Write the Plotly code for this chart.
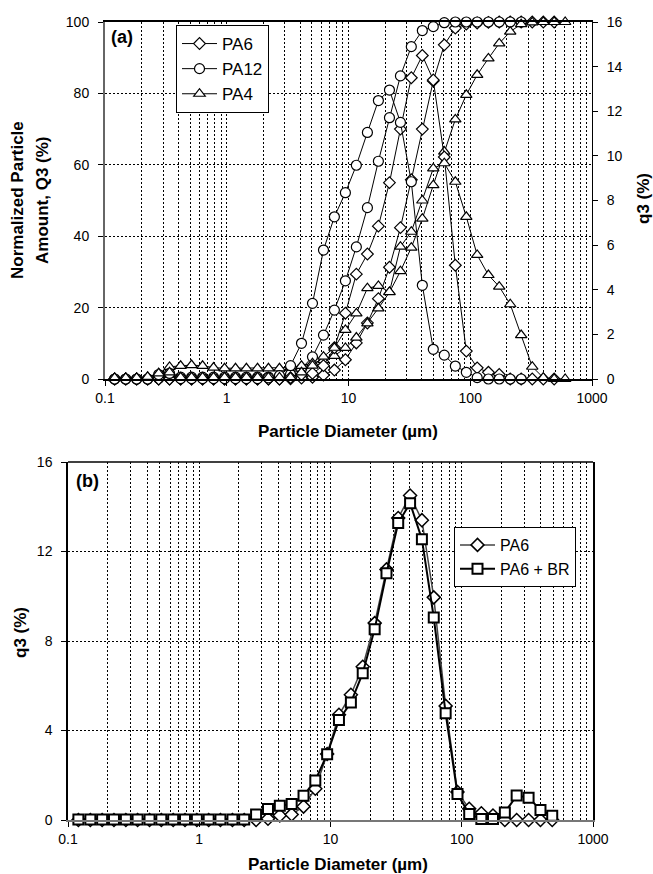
import plotly.graph_objects as go

# ---------------- data ----------------
# particle diameter grid (um)
diam = [0.120, 0.148, 0.182, 0.224, 0.276, 0.339, 0.418, 0.514, 0.633, 0.779,
        0.959, 1.18, 1.45, 1.79, 2.20, 2.71, 3.34, 4.11, 5.06, 6.23,
        7.66, 9.43, 11.6, 14.3, 17.6, 21.7, 26.7, 32.8, 40.4, 49.7,
        61.2, 75.4, 92.8, 114, 141, 173, 213, 262, 323, 398,
        489, 602]

x_tick_vals = [0.1, 1, 10, 100, 1000]
x_tick_text = ["0.1", "1", "10", "100", "1000"]

# (a) PA6 : 41 points
pa6_Q3 = [0, 0, 0, 0, 0, 0, 0, 0, 0, 0,
          0, 0, 0, 0, 0, 0, 0.06, 0.26, 0.5, 1.1,
          2.5, 5.4, 10.1, 15.7, 22.5, 31.3, 42.4, 55.8, 70.0, 83.5,
          93.6, 98.3, 99.4, 99.7, 99.9, 100, 100, 100, 100, 100,
          100]
pa6_q3 = [0, 0, 0, 0, 0, 0, 0, 0, 0, 0,
          0, 0, 0, 0, 0, 0, 0.06, 0.2, 0.25, 0.6,
          1.4, 2.95, 4.7, 5.6, 6.85, 8.8, 11.2, 13.5, 14.5, 13.4,
          9.95, 5.1, 1.25, 0.5, 0.3, 0.2, 0, 0, 0, 0,
          0]

# (a) PA12 : 38 points
pa12_Q3 = [0, 0, 0, 0, 0.2, 0.45, 0.5, 0.5, 0.5, 0.5,
           0.5, 0.5, 0.5, 0.5, 0.55, 0.7, 1.3, 2.9, 6.2, 12.3,
           19.3, 27.5, 37.0, 48.0, 61.0, 73.2, 84.9, 93.1, 97.6, 98.7,
           99.8, 100, 100, 100, 100, 100, 100, 100]
pa12_q3 = [0, 0, 0, 0, 0.2, 0.25, 0.02, 0.02, 0.02, 0.02,
           0.02, 0.02, 0.02, 0.02, 0.05, 0.15, 0.6, 1.6, 3.39, 5.78,
           7.27, 8.35, 9.58, 11.05, 12.48, 12.95, 11.5, 8.84, 4.2, 1.33,
           1.07, 0.58, 0.3, 0.06, 0, 0, 0, 0]

# (a) PA4 : 42 points
pa4_Q3 = [0.2, 0.3, 0.3, 0.5, 1.6, 3.4, 3.7, 3.9, 3.7, 3.2,
          3.0, 3.0, 3.0, 3.0, 3.0, 3.0, 3.2, 3.7, 4.4, 5.3,
          6.5, 8.7, 11.6, 15.6, 19.8, 24.3, 30.2, 36.8, 44.9, 54.3,
          63.7, 72.7, 79.6, 85.2, 89.8, 94.0, 97.3, 99.4, 99.9, 100,
          100, 100]
pa4_q3 = [0.05, 0.05, 0.05, 0.1, 0.25, 0.3, 0.07, 0.07, 0.07, 0.07,
          0.07, 0.07, 0.07, 0.07, 0.07, 0.07, 0.07, 0.3, 0.6, 1.0,
          1.4, 2.2, 2.94, 4.07, 4.17, 3.9, 5.93, 6.6, 8.0, 9.44,
          9.67, 8.84, 7.27, 5.56, 4.66, 4.14, 3.35, 1.97, 0.55, 0.06,
          0, 0]

# (b) PA6 and PA6 + BR : 41 points
b_pa6_q3 = [0, 0, 0, 0, 0, 0, 0, 0, 0, 0,
            0, 0, 0, 0, 0, 0, 0.06, 0.2, 0.25, 0.6,
            1.4, 2.95, 4.7, 5.6, 6.85, 8.8, 11.2, 13.5, 14.5, 13.4,
            9.95, 5.1, 1.25, 0.5, 0.3, 0.2, 0, 0, 0, 0,
            0]
b_br_q3 = [0.02, 0.02, 0.02, 0.02, 0.02, 0.02, 0.02, 0.02, 0.02, 0.02,
           0.02, 0.02, 0.02, 0.02, 0.02, 0.25, 0.49, 0.64, 0.72, 1.08,
           1.77, 2.94, 4.47, 5.25, 6.56, 8.53, 11.03, 13.27, 14.16, 12.55,
           9.05, 4.77, 1.16, 0.27, 0.04, 0.04, 0.34, 1.09, 1.0, 0.45,
           0.19]

# ---------------- figure ----------------
W, H = 653, 874
FONT = "Arial, Liberation Sans, sans-serif"


def pxx(x):
    return x / W


def pyy(y):
    return 1 - y / H


minor_vals = [m * 10.0 ** e for e in (-1, 0, 1, 2) for m in range(2, 10)]

fig = go.Figure()


def add(xs, ys, sym, name, xa, ya, legend, showlegend, size,
        lw=1.0, lc="black", mlw=1.2):
    fig.add_trace(go.Scatter(
        x=xs, y=ys, mode="lines+markers", name=name,
        xaxis=xa, yaxis=ya, legend=legend, showlegend=showlegend,
        line=dict(color=lc, width=lw),
        marker=dict(symbol=sym, size=size, color="white",
                    line=dict(color="black", width=mlw)),
        cliponaxis=False, hoverinfo="skip"))


# panel (a)
add(diam[:41], pa6_Q3, "diamond", "PA6", "x", "y", "legend", True, 9)
add(diam[:38], pa12_Q3, "circle", "PA12", "x", "y", "legend", True, 10)
add(diam[:42], pa4_Q3, "triangle-up", "PA4", "x", "y", "legend", True, 10)
add(diam[:41], pa6_q3, "diamond", "PA6 q3", "x", "y2", "legend", False, 9)
add(diam[:38], pa12_q3, "circle", "PA12 q3", "x", "y2", "legend", False, 10)
add(diam[:42], pa4_q3, "triangle-up", "PA4 q3", "x", "y2", "legend", False, 10)

# panel (b)
add(diam[:41], b_pa6_q3, "diamond", "PA6", "x2", "y3", "legend2", True, 10,
    lw=1.5, lc="#444444", mlw=1.5)
add(diam[:41], b_br_q3, "square", "PA6 + BR", "x2", "y3", "legend2", True, 10,
    lw=2.0, lc="black", mlw=2.0)

grid = dict(showgrid=True, gridcolor="black", gridwidth=1, griddash="2px,2px")
tickf = dict(family=FONT, size=14, color="black")

xcommon = dict(type="log", range=[-1, 3], tickmode="array",
               tickvals=x_tick_vals, ticktext=x_tick_text,
               ticks="outside", ticklen=5, tickcolor="black",
               tickfont=tickf, zeroline=False, automargin=False,
               minor=dict(tickmode="array", tickvals=minor_vals, ticks="",
                          showgrid=True, gridcolor="black", gridwidth=1,
                          griddash="2px,2px"),
               **grid)

fig.update_layout(
    width=W, height=H, margin=dict(l=0, r=0, t=0, b=0, autoexpand=False),
    paper_bgcolor="white", plot_bgcolor="white",
    font=dict(family=FONT, color="black"),
    xaxis=dict(domain=[pxx(105), pxx(592)], anchor="y",
               showline=True, linecolor="black", linewidth=1.5, mirror=True,
               **xcommon),
    yaxis=dict(domain=[pyy(379), pyy(22)], anchor="x", range=[0, 100],
               tickmode="array", tickvals=[0, 20, 40, 60, 80, 100],
               ticks="outside", ticklen=5, tickcolor="black", tickfont=tickf,
               showline=True, linecolor="#666666", linewidth=2,
               zeroline=False, ticklabelstandoff=6, automargin=False, **grid),
    yaxis2=dict(overlaying="y", side="right", anchor="x", range=[0, 16],
                tickmode="array", tickvals=list(range(0, 17, 2)),
                ticks="outside", ticklen=5, tickcolor="black", tickfont=tickf,
                showline=True, linecolor="black", linewidth=1,
                showgrid=False, zeroline=False, ticklabelstandoff=6,
                automargin=False),
    xaxis2=dict(domain=[pxx(68), pxx(593)], anchor="y3",
                showline=True, linecolor="#777777", linewidth=2, mirror=False,
                **xcommon),
    yaxis3=dict(domain=[pyy(820), pyy(462)], anchor="x2", range=[0, 16],
                tickmode="array", tickvals=[0, 4, 8, 12, 16],
                ticks="outside", ticklen=5, tickcolor="black", tickfont=tickf,
                showline=True, linecolor="black", linewidth=1.5, mirror=True,
                zeroline=False, ticklabelstandoff=6, automargin=False, **grid),
    legend=dict(x=pxx(176), y=pyy(25), xanchor="left", yanchor="top",
                bordercolor="black", borderwidth=1, bgcolor="white",
                itemwidth=35,
                font=dict(family=FONT, size=17, color="black")),
    legend2=dict(x=pxx(454), y=pyy(527), xanchor="left", yanchor="top",
                 bordercolor="black", borderwidth=1, bgcolor="white",
                 itemwidth=35,
                 font=dict(family=FONT, size=16, color="black")),
    showlegend=True,
)

# top border of panel (b)
fig.add_shape(type="line", xref="paper", yref="paper",
              x0=pxx(68), x1=pxx(593), y0=pyy(462), y1=pyy(462),
              line=dict(color="black", width=1.5))


def ann(text, x, y, size=17, angle=0, bold=True):
    fig.add_annotation(text=("<b>%s</b>" % text) if bold else text,
                       x=pxx(x), y=pyy(y), xref="paper", yref="paper",
                       showarrow=False, textangle=angle,
                       xanchor="center", yanchor="middle",
                       font=dict(family=FONT, size=size, color="black"))


ann("(a)", 122, 37, size=18)
ann("(b)", 87, 481, size=18)
ann("Particle Diameter (\u00b5m)", 348, 431)
ann("Particle Diameter (\u00b5m)", 338, 864)
ann("Normalized Particle", 17, 200, angle=-90)
ann("Amount, Q3 (%)", 42, 200, angle=-90)
ann("q3 (%)", 643, 199, angle=-90)
ann("q3 (%)", 20, 633, angle=-90)

fig.write_html("out.html",
               post_script="document.body.style.margin='0';"
                           "document.body.style.overflow='hidden';")
